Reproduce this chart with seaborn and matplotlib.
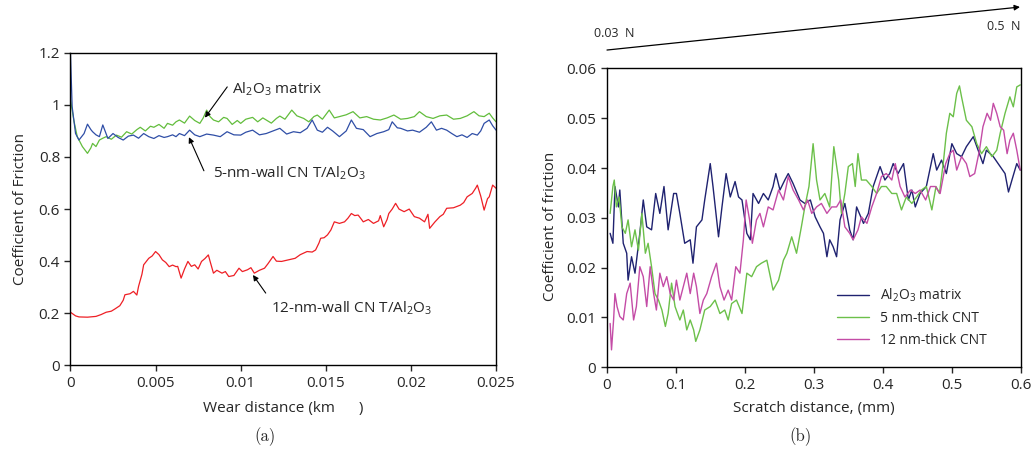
import pandas as pd
import matplotlib.pyplot as plt
import seaborn as sns

# ---- data: panel (a), wear test, (distance km, COF) ----
al2o3_wear = [(0, 1.02), (0.0002, 0.94), (0.0004, 0.878), (0.0007, 0.84), (0.001, 0.814), (0.0012, 0.835),
              (0.0013, 0.852), (0.0015, 0.84), (0.0017, 0.865), (0.0019, 0.872), (0.0021, 0.878), (0.0024, 0.868),
              (0.0027, 0.884), (0.003, 0.876), (0.0033, 0.897), (0.0036, 0.888), (0.0039, 0.905), (0.0041, 0.914),
              (0.0044, 0.9), (0.0047, 0.918), (0.0049, 0.914), (0.0052, 0.925), (0.0055, 0.91), (0.0057, 0.929),
              (0.006, 0.922), (0.0062, 0.935), (0.0064, 0.942), (0.0067, 0.93), (0.007, 0.957), (0.0073, 0.94),
              (0.0076, 0.929), (0.0078, 0.95), (0.008, 0.98), (0.0082, 0.955), (0.0084, 0.942), (0.0087, 0.935),
              (0.009, 0.952), (0.0092, 0.948), (0.0095, 0.925), (0.0098, 0.94), (0.01, 0.929), (0.0103, 0.945),
              (0.0107, 0.952), (0.011, 0.935), (0.0113, 0.95), (0.0115, 0.942), (0.0118, 0.93), (0.0121, 0.948),
              (0.0123, 0.957), (0.0126, 0.945), (0.013, 0.98), (0.0133, 0.958), (0.0137, 0.948), (0.014, 0.935),
              (0.0143, 0.955), (0.0145, 0.961), (0.0148, 0.945), (0.0152, 0.98), (0.0155, 0.95), (0.0158, 0.955),
              (0.0162, 0.962), (0.0166, 0.974), (0.017, 0.95), (0.0174, 0.955), (0.0178, 0.945), (0.0182, 0.942),
              (0.0186, 0.95), (0.019, 0.961), (0.0194, 0.945), (0.0198, 0.948), (0.0202, 0.955), (0.0205, 0.974),
              (0.0209, 0.955), (0.0213, 0.948), (0.0217, 0.958), (0.0221, 0.961), (0.0225, 0.945), (0.0229, 0.948),
              (0.0233, 0.958), (0.0237, 0.974), (0.024, 0.958), (0.0243, 0.955), (0.0246, 0.968), (0.0248, 0.95),
              (0.025, 0.935)]

cnt5_wear = [(0, 1.198), (0.0001, 0.993), (0.0003, 0.89), (0.0005, 0.865), (0.0008, 0.89), (0.001, 0.926),
             (0.0012, 0.905), (0.0013, 0.897), (0.0015, 0.885), (0.0017, 0.878), (0.0019, 0.923), (0.0022, 0.871),
             (0.0025, 0.89), (0.0028, 0.875), (0.0031, 0.865), (0.0034, 0.88), (0.0037, 0.884), (0.004, 0.872),
             (0.0043, 0.89), (0.0046, 0.878), (0.0049, 0.871), (0.0052, 0.882), (0.0055, 0.875), (0.0057, 0.878),
             (0.006, 0.885), (0.0062, 0.878), (0.0064, 0.89), (0.0067, 0.882), (0.007, 0.903), (0.0073, 0.885),
             (0.0076, 0.878), (0.008, 0.888), (0.0084, 0.884), (0.0088, 0.878), (0.0092, 0.897), (0.0096, 0.885),
             (0.01, 0.884), (0.0103, 0.895), (0.0107, 0.903), (0.0111, 0.885), (0.0115, 0.89), (0.0119, 0.9),
             (0.0123, 0.91), (0.0127, 0.888), (0.0131, 0.897), (0.0135, 0.893), (0.0139, 0.91), (0.0142, 0.942),
             (0.0145, 0.903), (0.0148, 0.895), (0.0151, 0.914), (0.0154, 0.9), (0.0158, 0.878), (0.0162, 0.9),
             (0.0165, 0.942), (0.0168, 0.91), (0.0172, 0.905), (0.0176, 0.878), (0.018, 0.89), (0.0184, 0.897),
             (0.0187, 0.905), (0.0189, 0.935), (0.0192, 0.912), (0.0194, 0.91), (0.0198, 0.9), (0.0201, 0.903),
             (0.0205, 0.895), (0.0209, 0.914), (0.0212, 0.935), (0.0215, 0.903), (0.0218, 0.91), (0.0221, 0.903),
             (0.0224, 0.89), (0.0227, 0.878), (0.023, 0.885), (0.0233, 0.875), (0.0236, 0.89), (0.0239, 0.884),
             (0.0241, 0.9), (0.0243, 0.929), (0.0246, 0.942), (0.0248, 0.92), (0.025, 0.903)]

cnt12_wear = [(0, 0.204), (0.0003, 0.19), (0.0005, 0.186), (0.001, 0.185), (0.0015, 0.188), (0.0018, 0.195),
              (0.0021, 0.204), (0.0024, 0.208), (0.0026, 0.216), (0.0029, 0.229), (0.0031, 0.25), (0.0032, 0.271),
              (0.0035, 0.275), (0.0037, 0.284), (0.0039, 0.27), (0.004, 0.303), (0.0042, 0.35), (0.0043, 0.386),
              (0.0046, 0.411), (0.0048, 0.42), (0.005, 0.437), (0.0052, 0.425), (0.0054, 0.405), (0.0056, 0.395),
              (0.0058, 0.379), (0.006, 0.385), (0.0062, 0.379), (0.0063, 0.38), (0.0065, 0.335), (0.0067, 0.37),
              (0.0069, 0.399), (0.0071, 0.38), (0.0073, 0.386), (0.0075, 0.37), (0.0077, 0.399), (0.0079, 0.41),
              (0.0081, 0.424), (0.0082, 0.4), (0.0084, 0.354), (0.0086, 0.365), (0.0089, 0.354), (0.0091, 0.36),
              (0.0093, 0.341), (0.0096, 0.345), (0.0099, 0.373), (0.0101, 0.36), (0.0104, 0.367), (0.0106, 0.375),
              (0.0108, 0.354), (0.0111, 0.365), (0.0114, 0.373), (0.0116, 0.39), (0.0119, 0.418), (0.0121, 0.4),
              (0.0124, 0.399), (0.0128, 0.405), (0.0132, 0.411), (0.0135, 0.425), (0.0139, 0.437), (0.0142, 0.435),
              (0.0144, 0.443), (0.0146, 0.47), (0.0147, 0.488), (0.0149, 0.49), (0.0151, 0.501), (0.0153, 0.52),
              (0.0155, 0.551), (0.0158, 0.545), (0.0161, 0.551), (0.0163, 0.565), (0.0165, 0.583), (0.0167, 0.575),
              (0.0169, 0.577), (0.0171, 0.56), (0.0172, 0.551), (0.0175, 0.56), (0.0178, 0.545), (0.0181, 0.555),
              (0.0182, 0.575), (0.0184, 0.532), (0.0186, 0.56), (0.0187, 0.583), (0.0189, 0.6), (0.0191, 0.622),
              (0.0193, 0.6), (0.0196, 0.59), (0.0199, 0.6), (0.0202, 0.571), (0.0205, 0.565), (0.0208, 0.551),
              (0.021, 0.58), (0.0211, 0.526), (0.0214, 0.55), (0.0217, 0.571), (0.0219, 0.58), (0.0221, 0.603),
              (0.0225, 0.605), (0.0229, 0.615), (0.0231, 0.625), (0.0233, 0.647), (0.0236, 0.66), (0.0238, 0.68),
              (0.0239, 0.692), (0.0241, 0.65), (0.0243, 0.596), (0.0245, 0.64), (0.0246, 0.647), (0.0248, 0.692),
              (0.025, 0.68)]

# ---- data: panel (b), scratch test, (distance mm, COF) ----
al2o3_scratch = [(0.005, 0.0269), (0.009, 0.0249), (0.012, 0.0363), (0.017, 0.0322), (0.019, 0.0356), (0.024, 0.0249),
                 (0.029, 0.0229), (0.031, 0.0175), (0.036, 0.0222), (0.041, 0.0189), (0.048, 0.0269), (0.053, 0.0336),
                 (0.058, 0.0282), (0.065, 0.0276), (0.071, 0.0349), (0.077, 0.0309), (0.083, 0.0363), (0.089, 0.0276),
                 (0.097, 0.0349), (0.101, 0.0349), (0.106, 0.0309), (0.113, 0.0249), (0.121, 0.0256), (0.125, 0.0209),
                 (0.130, 0.0282), (0.138, 0.0296), (0.142, 0.0336), (0.150, 0.0409), (0.154, 0.0363), (0.162, 0.0262),
                 (0.167, 0.0322), (0.173, 0.0389), (0.179, 0.0342), (0.186, 0.0373), (0.191, 0.0342), (0.196, 0.0336),
                 (0.203, 0.0269), (0.208, 0.0256), (0.212, 0.0349), (0.220, 0.0329), (0.227, 0.0349), (0.234, 0.0336),
                 (0.241, 0.0363), (0.245, 0.0389), (0.251, 0.0356), (0.258, 0.0376), (0.263, 0.0389), (0.270, 0.0369),
                 (0.280, 0.0336), (0.287, 0.0329), (0.295, 0.0336), (0.302, 0.0302), (0.309, 0.0282), (0.314, 0.0269),
                 (0.319, 0.0222), (0.323, 0.0256), (0.328, 0.0242), (0.333, 0.0222), (0.338, 0.0296), (0.345, 0.0329),
                 (0.352, 0.0276), (0.357, 0.0256), (0.362, 0.0322), (0.372, 0.0289), (0.379, 0.0309), (0.386, 0.0363),
                 (0.396, 0.0403), (0.403, 0.0376), (0.410, 0.0389), (0.415, 0.0409), (0.422, 0.0389), (0.430, 0.0409),
                 (0.437, 0.0336), (0.442, 0.0356), (0.447, 0.0322), (0.454, 0.0349), (0.463, 0.0363), (0.473, 0.0429),
                 (0.478, 0.0396), (0.485, 0.0416), (0.492, 0.0389), (0.500, 0.0449), (0.507, 0.0429), (0.514, 0.0423),
                 (0.521, 0.0443), (0.531, 0.0463), (0.538, 0.0436), (0.545, 0.0409), (0.550, 0.0436), (0.560, 0.0423),
                 (0.570, 0.0403), (0.577, 0.0389), (0.582, 0.0352), (0.587, 0.0376), (0.594, 0.0409), (0.599, 0.0396)]

cnt5_scratch = [(0.005, 0.0309), (0.009, 0.0363), (0.011, 0.0376), (0.014, 0.0322), (0.018, 0.0342), (0.022, 0.0282),
                (0.027, 0.0269), (0.031, 0.0296), (0.036, 0.0242), (0.041, 0.0276), (0.046, 0.0235), (0.051, 0.0309),
                (0.056, 0.0229), (0.060, 0.0249), (0.065, 0.0202), (0.070, 0.0148), (0.075, 0.0135), (0.080, 0.0115),
                (0.085, 0.0082), (0.089, 0.0108), (0.094, 0.0169), (0.099, 0.0122), (0.106, 0.0095), (0.111, 0.0115),
                (0.116, 0.0075), (0.121, 0.0095), (0.126, 0.0075), (0.129, 0.0052), (0.135, 0.0075), (0.142, 0.0115),
                (0.150, 0.0122), (0.157, 0.0135), (0.164, 0.0108), (0.171, 0.0115), (0.176, 0.0095), (0.181, 0.0128),
                (0.188, 0.0135), (0.196, 0.0108), (0.203, 0.0189), (0.210, 0.0182), (0.217, 0.0202), (0.224, 0.0209),
                (0.232, 0.0215), (0.237, 0.0182), (0.241, 0.0155), (0.249, 0.0175), (0.256, 0.0215), (0.261, 0.0229),
                (0.268, 0.0262), (0.275, 0.0229), (0.282, 0.0282), (0.287, 0.0322), (0.293, 0.0363), (0.299, 0.0449),
                (0.304, 0.0376), (0.309, 0.0336), (0.316, 0.0349), (0.323, 0.0322), (0.329, 0.0443), (0.336, 0.0376),
                (0.340, 0.0309), (0.345, 0.0349), (0.350, 0.0403), (0.356, 0.0409), (0.360, 0.0363), (0.364, 0.0429),
                (0.369, 0.0376), (0.376, 0.0376), (0.384, 0.0363), (0.391, 0.0349), (0.398, 0.0363), (0.405, 0.0363),
                (0.413, 0.0349), (0.420, 0.0349), (0.427, 0.0316), (0.434, 0.0342), (0.442, 0.0329), (0.449, 0.0342),
                (0.456, 0.0356), (0.463, 0.0363), (0.471, 0.0316), (0.477, 0.0363), (0.482, 0.0349), (0.488, 0.0416),
                (0.492, 0.0470), (0.497, 0.0510), (0.502, 0.0503), (0.507, 0.0550), (0.511, 0.0565), (0.514, 0.0543),
                (0.521, 0.0496), (0.529, 0.0483), (0.536, 0.0449), (0.543, 0.0429), (0.550, 0.0443), (0.558, 0.0423),
                (0.565, 0.0436), (0.570, 0.0470), (0.577, 0.0510), (0.584, 0.0543), (0.589, 0.0523), (0.594, 0.0563),
                (0.599, 0.0567)]

cnt12_scratch = [(0.005, 0.0088), (0.007, 0.0035), (0.010, 0.0095), (0.012, 0.0148), (0.015, 0.0122), (0.019, 0.0102),
                 (0.024, 0.0095), (0.029, 0.0148), (0.034, 0.0169), (0.039, 0.0095), (0.043, 0.0122), (0.048, 0.0202),
                 (0.053, 0.0182), (0.058, 0.0122), (0.063, 0.0202), (0.068, 0.0148), (0.072, 0.0115), (0.077, 0.0189),
                 (0.082, 0.0162), (0.087, 0.0182), (0.092, 0.0148), (0.097, 0.0135), (0.101, 0.0175), (0.106, 0.0135),
                 (0.111, 0.0162), (0.116, 0.0189), (0.121, 0.0148), (0.126, 0.0189), (0.130, 0.0162), (0.135, 0.0108),
                 (0.140, 0.0135), (0.145, 0.0148), (0.152, 0.0182), (0.159, 0.0209), (0.164, 0.0162), (0.170, 0.0135),
                 (0.176, 0.0155), (0.181, 0.0135), (0.187, 0.0202), (0.193, 0.0189), (0.198, 0.0256), (0.202, 0.0336),
                 (0.207, 0.0296), (0.211, 0.0249), (0.217, 0.0296), (0.222, 0.0309), (0.227, 0.0282), (0.234, 0.0322),
                 (0.241, 0.0316), (0.249, 0.0356), (0.256, 0.0336), (0.263, 0.0383), (0.270, 0.0356), (0.278, 0.0336),
                 (0.285, 0.0316), (0.291, 0.0336), (0.297, 0.0309), (0.304, 0.0322), (0.311, 0.0329), (0.319, 0.0309),
                 (0.326, 0.0322), (0.333, 0.0322), (0.339, 0.0336), (0.345, 0.0282), (0.352, 0.0269), (0.357, 0.0256),
                 (0.364, 0.0276), (0.369, 0.0302), (0.377, 0.0289), (0.384, 0.0322), (0.391, 0.0349), (0.398, 0.0383),
                 (0.405, 0.0389), (0.413, 0.0376), (0.418, 0.0409), (0.425, 0.0363), (0.432, 0.0342), (0.440, 0.0356),
                 (0.447, 0.0349), (0.454, 0.0356), (0.462, 0.0336), (0.469, 0.0363), (0.476, 0.0363), (0.483, 0.0349),
                 (0.491, 0.0409), (0.497, 0.0429), (0.502, 0.0436), (0.507, 0.0396), (0.514, 0.0423), (0.521, 0.0409),
                 (0.526, 0.0383), (0.533, 0.0389), (0.540, 0.0436), (0.545, 0.0483), (0.551, 0.0510), (0.556, 0.0496),
                 (0.560, 0.0530), (0.565, 0.0510), (0.570, 0.0483), (0.575, 0.0476), (0.580, 0.0429), (0.584, 0.0456),
                 (0.589, 0.0470), (0.594, 0.0436), (0.599, 0.0396)]

wear_xticks = [0, 0.005, 0.01, 0.015, 0.02, 0.025]
wear_yticks = [0, 0.2, 0.4, 0.6, 0.8, 1, 1.2]
scratch_xticks = [0, 0.1, 0.2, 0.3, 0.4, 0.5, 0.6]
scratch_yticks = [0, 0.01, 0.02, 0.03, 0.04, 0.05, 0.06]


def to_df(points):
    return pd.DataFrame(points, columns=["x", "cof"])


sns.set_style("ticks")
plt.rcParams["font.family"] = ["Open Sans", "DejaVu Sans"]
plt.rcParams["mathtext.fontset"] = "custom"
plt.rcParams["mathtext.rm"] = "Open Sans"
plt.rcParams["mathtext.default"] = "regular"
plt.rcParams["axes.linewidth"] = 1.0

fig = plt.figure(figsize=(10.33, 4.59), dpi=100)
ax1 = fig.add_axes([0.0682, 0.204, 0.412, 0.681])
ax2 = fig.add_axes([0.5873, 0.1998, 0.401, 0.651])

# panel (a)
sns.lineplot(data=to_df(al2o3_wear), x="x", y="cof", ax=ax1, color="#62bd3c", linewidth=0.9)
sns.lineplot(data=to_df(cnt5_wear), x="x", y="cof", ax=ax1, color="#2f4ea6", linewidth=0.9)
sns.lineplot(data=to_df(cnt12_wear), x="x", y="cof", ax=ax1, color="#ee1f25", linewidth=0.9)

ax1.set_xlim(0, 0.025)
ax1.set_ylim(0, 1.2)
ax1.set_xticks(wear_xticks)
ax1.set_xticklabels(["0", "0.005", "0.01", "0.015", "0.02", "0.025"])
ax1.set_yticks(wear_yticks)
ax1.set_yticklabels(["0", "0.2", "0.4", "0.6", "0.8", "1", "1.2"])
ax1.set_xlabel("Wear distance (km      )", fontsize=11)
ax1.set_ylabel("Coefficient of Friction", fontsize=11)
ax1.xaxis.set_label_coords(0.5, -0.114)
ax1.yaxis.set_label_coords(-0.1, 0.5)

arrow = dict(arrowstyle="-|>", color="black", lw=0.8, mutation_scale=8, shrinkA=0, shrinkB=0)
ax1.annotate("", xy=(0.0079, 0.951), xytext=(0.00921, 1.069), arrowprops=arrow)
ax1.text(0.00949, 1.061, "Al$_2$O$_3$ matrix", fontsize=11, ha="left", va="center")
ax1.annotate("", xy=(0.00696, 0.876), xytext=(0.00784, 0.747), arrowprops=arrow)
ax1.text(0.00837, 0.738, "5-nm-wall CN T/Al$_2$O$_3$", fontsize=11, ha="left", va="center")
ax1.annotate("", xy=(0.01072, 0.347), xytext=(0.01147, 0.2775), arrowprops=arrow)
ax1.text(0.01178, 0.22, "12-nm-wall CN T/Al$_2$O$_3$", fontsize=11, ha="left", va="center")

# panel (b)
sns.lineplot(data=to_df(al2o3_scratch), x="x", y="cof", ax=ax2, color="#1f2270", linewidth=1.0,
             label="Al$_2$O$_3$ matrix")
sns.lineplot(data=to_df(cnt5_scratch), x="x", y="cof", ax=ax2, color="#6cc04a", linewidth=1.0,
             label="5 nm-thick CNT")
sns.lineplot(data=to_df(cnt12_scratch), x="x", y="cof", ax=ax2, color="#c44ca6", linewidth=1.0,
             label="12 nm-thick CNT")

ax2.set_xlim(0, 0.6)
ax2.set_ylim(0, 0.06)
ax2.set_xticks(scratch_xticks)
ax2.set_xticklabels(["0", "0.1", "0.2", "0.3", "0.4", "0.5", "0.6"])
ax2.set_yticks(scratch_yticks)
ax2.set_yticklabels(["0", "0.01", "0.02", "0.03", "0.04", "0.05", "0.06"])
ax2.set_xlabel("Scratch distance, (mm)", fontsize=11)
ax2.set_ylabel("Coefficient of friction", fontsize=11)
ax2.xaxis.set_label_coords(0.5, -0.113)
ax2.yaxis.set_label_coords(-0.117, 0.47)
ax2.legend(loc="upper left", bbox_to_anchor=(0.556, 0.27), frameon=False, fontsize=10,
           handlelength=2.3, handletextpad=0.8, labelspacing=0.5, borderpad=0, borderaxespad=0)

for ax in (ax1, ax2):
    ax.tick_params(direction="out", length=4, width=1, labelsize=11, top=False, right=False)
    for side in ("top", "right", "left", "bottom"):
        ax.spines[side].set_visible(True)
        ax.spines[side].set_color("black")

# load ramp arrow above panel (b)
plt.annotate("", xy=(0.9874, 0.9847), xytext=(0.5876, 0.891), xycoords="figure fraction",
             textcoords="figure fraction",
             arrowprops=dict(arrowstyle="-|>", color="black", lw=0.9, mutation_scale=8, shrinkA=0, shrinkB=0))
fig.text(0.575, 0.928, "0.03  N", fontsize=9, ha="left", va="center")
fig.text(0.955, 0.943, "0.5  N", fontsize=9, ha="left", va="center")

fig.text(0.2565, 0.048, "(a)", fontsize=12, family="cmr10", ha="center", va="center")
fig.text(0.7745, 0.048, "(b)", fontsize=12, family="cmr10", ha="center", va="center")

plt.savefig("out.png", dpi=100)
